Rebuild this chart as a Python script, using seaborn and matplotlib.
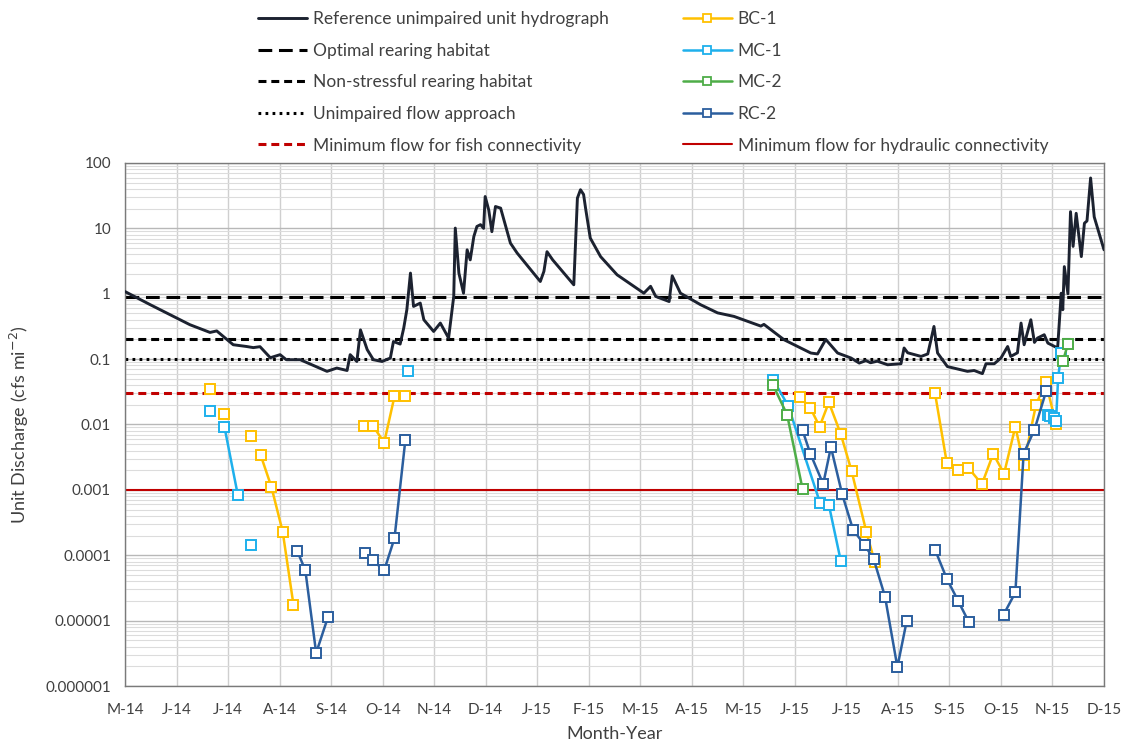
import numpy as np
import pandas as pd
import matplotlib
matplotlib.use("Agg")
import matplotlib.pyplot as plt
import seaborn as sns
from matplotlib.lines import Line2D
from matplotlib.ticker import FixedLocator, NullFormatter

# ---------------- data ----------------
month_labels = ["M-14", "J-14", "J-14", "A-14", "S-14", "O-14", "N-14", "D-14", "J-15", "F-15",
                "M-15", "A-15", "M-15", "J-15", "J-15", "A-15", "S-15", "O-15", "N-15", "D-15"]
y_tick_values = [1e-6, 1e-5, 1e-4, 1e-3, 1e-2, 1e-1, 1, 10, 100]
y_tick_labels = ["0.000001", "0.00001", "0.0001", "0.001", "0.01", "0.1", "1", "10", "100"]

# x in months since the start of May 2014
hydro_month = [0.00, 0.49, 1.26, 1.65, 1.78, 2.10, 2.36, 2.49, 2.62, 2.82, 3.01, 3.13, 3.40, 3.92, 4.11,
               4.31, 4.37, 4.50, 4.57, 4.70, 4.82, 4.99, 5.15, 5.21, 5.34, 5.41, 5.47, 5.54, 5.60, 5.73,
               5.80, 5.99, 6.12, 6.28, 6.38, 6.41, 6.48, 6.57, 6.64, 6.70, 6.77, 6.83, 6.90, 6.96, 6.99,
               7.06, 7.12, 7.19, 7.29, 7.48, 7.61, 8.06, 8.13, 8.19, 8.30, 8.71, 8.78, 8.84, 8.90, 8.94,
               9.03, 9.23, 9.55, 10.07, 10.20, 10.30, 10.56, 10.62, 10.78, 11.17, 11.50, 11.82, 12.34,
               12.40, 12.79, 13.31, 13.44, 13.60, 13.83, 14.09, 14.25, 14.38, 14.47, 14.60, 14.80, 15.06,
               15.12, 15.19, 15.45, 15.58, 15.70, 15.77, 15.96, 16.35, 16.48, 16.64, 16.71, 16.87, 17.00,
               17.13, 17.19, 17.32, 17.39, 17.45, 17.58, 17.65, 17.71, 17.84, 17.91, 18.10, 18.17, 18.20,
               18.23, 18.30, 18.35, 18.40, 18.46, 18.56, 18.62, 18.67, 18.74, 18.81, 19.00]
hydro_q = [1.08, 0.68, 0.336, 0.256, 0.27, 0.166, 0.156, 0.15, 0.155, 0.105, 0.117, 0.098, 0.098, 0.065, 0.073,
           0.067, 0.117, 0.092, 0.28, 0.14, 0.098, 0.092, 0.104, 0.186, 0.17, 0.30, 0.57, 2.07, 0.64, 0.72,
           0.40, 0.265, 0.356, 0.21, 0.91, 10.1, 2.07, 1.02, 4.7, 3.3, 7.5, 10.7, 11.4, 10.0, 30.7,
           19.0, 8.9, 21.6, 20.4, 5.95, 4.2, 1.54, 2.2, 4.4, 3.3, 1.37, 29.0, 39.0, 33.0, 20.0,
           7.1, 3.7, 1.95, 1.02, 1.3, 0.91, 0.76, 1.88, 1.02, 0.68, 0.51, 0.45, 0.32,
           0.34, 0.198, 0.124, 0.12, 0.20, 0.124, 0.104, 0.087, 0.095, 0.088, 0.093, 0.082, 0.085,
           0.148, 0.125, 0.11, 0.12, 0.316, 0.124, 0.077, 0.065, 0.067, 0.06, 0.085, 0.085, 0.104,
           0.156, 0.11, 0.125, 0.356, 0.166, 0.40, 0.18, 0.21, 0.236, 0.176, 0.148, 1.02, 0.57,
           2.6, 1.0, 18.0, 5.3, 17.0, 3.7, 12.0, 13.0, 59.0, 15.0, 4.7]

optimal_rearing = 0.9
non_stressful = 0.2
unimpaired_flow = 0.1
fish_connectivity = 0.03
hydraulic_connectivity = 0.001

bc1_month = [1.65, 1.93, 2.44, 2.63, 2.84, 3.06, 3.27, 4.64, 4.81, 5.03, 5.23, 5.44,
             13.10, 13.30, 13.48, 13.66, 13.89, 14.10, 14.39, 14.55,
             15.72, 15.95, 16.16, 16.37, 16.63, 16.85, 17.06, 17.28, 17.44, 17.68, 17.87, 18.07]
bc1_q = [0.0349, 0.0145, 0.0067, 0.00346, 0.00112, 0.00023, 0.0000174, 0.0096, 0.0096, 0.0053, 0.0269, 0.0269,
         0.026, 0.018, 0.0093, 0.0218, 0.0072, 0.00196, 0.000224, 0.0000794,
         0.0302, 0.00257, 0.00204, 0.00216, 0.00122, 0.00356, 0.00177, 0.0093, 0.00244, 0.020, 0.0445, 0.010]
bc1_seg = [0, 1, 2, 3, 3, 3, 3, 4, 4, 4, 4, 4,
           5, 5, 5, 5, 5, 5, 5, 5,
           6, 6, 6, 6, 6, 6, 6, 6, 6, 6, 6, 6]

mc1_month = [1.65, 1.93, 2.19, 2.44, 5.49, 12.58, 12.87, 13.49, 13.66, 13.89,
             17.91, 17.96, 18.02, 18.07, 18.11, 18.17]
mc1_q = [0.0159, 0.0092, 0.00083, 0.000142, 0.065, 0.0484, 0.0194, 0.00063, 0.00059, 0.000083,
         0.0141, 0.0133, 0.0125, 0.0115, 0.052, 0.124]
mc1_seg = [0, 1, 1, 2, 3, 4, 4, 4, 4, 4, 5, 5, 5, 5, 5, 5]

mc2_month = [12.58, 12.85, 13.15, 18.20, 18.30]
mc2_q = [0.0396, 0.0141, 0.00103, 0.092, 0.17]
mc2_seg = [0, 0, 0, 1, 1]

rc2_month = [3.34, 3.50, 3.71, 3.94, 4.65, 4.81, 5.03, 5.23, 5.44,
             13.15, 13.30, 13.55, 13.70, 13.92, 14.13, 14.36, 14.53, 14.75, 14.99, 15.17,
             15.72, 15.95, 16.17, 16.38, 17.05, 17.28, 17.44, 17.65, 17.88]
rc2_q = [0.000118, 0.0000587, 0.0000032, 0.0000114, 0.000107, 0.0000834, 0.0000587, 0.000182, 0.0057,
         0.0081, 0.0036, 0.00123, 0.0045, 0.00085, 0.000246, 0.000141, 0.0000874, 0.0000233, 0.00000195, 0.0000098,
         0.000122, 0.0000436, 0.00002, 0.0000094, 0.0000123, 0.000027, 0.0036, 0.0083, 0.033]
rc2_seg = [0, 0, 0, 0, 1, 1, 1, 1, 1,
           2, 2, 2, 2, 2, 2, 2, 2, 2, 2, 2,
           3, 3, 3, 3, 4, 4, 4, 4, 4]

# ---------------- style ----------------
sns.set_theme(style="white")
plt.rcParams["font.family"] = ["Lato", "DejaVu Sans"]

col_hydro = "#1c2230"
col_red = "#c00000"
col_bc1 = "#FFC000"
col_mc1 = "#1EB0EC"
col_mc2 = "#4EAD48"
col_rc2 = "#2B5E9E"
text_col = "#404040"

fig = plt.figure(figsize=(11.22, 7.46), dpi=100)
ax = fig.add_axes([125 / 1122, 1 - 686 / 746, (1104 - 125) / 1122, (686 - 163) / 746])
ax.set_yscale("log")

# threshold lines
ax.axhline(optimal_rearing, color="black", lw=2.2, dashes=(4.5, 2.2), zorder=2)
ax.axhline(non_stressful, color="black", lw=2.2, dashes=(2.6, 1.6), zorder=2)
ax.axhline(unimpaired_flow, color="black", lw=2.2, dashes=(0.9, 1.4), zorder=2)
ax.axhline(fish_connectivity, color=col_red, lw=2.2, dashes=(2.6, 1.6), zorder=2)
ax.axhline(hydraulic_connectivity, color=col_red, lw=1.5, zorder=2)

# hydrograph
sns.lineplot(x=hydro_month, y=hydro_q, color=col_hydro, lw=2.1, estimator=None, sort=False,
             ax=ax, legend=False, zorder=3)

def station(xs, ys, seg, c):
    sns.lineplot(x=xs, y=ys, units=seg, estimator=None, sort=False, color=c, lw=1.8,
                 marker="s", markersize=6.5, markerfacecolor="white", markeredgecolor=c,
                 markeredgewidth=1.4, ax=ax, legend=False, zorder=4)

station(bc1_month, bc1_q, bc1_seg, col_bc1)
station(mc1_month, mc1_q, mc1_seg, col_mc1)
station(mc2_month, mc2_q, mc2_seg, col_mc2)
station(rc2_month, rc2_q, rc2_seg, col_rc2)

# axes
ax.set_xlim(0, 19)
ax.set_ylim(1e-6, 100)
ax.xaxis.set_major_locator(FixedLocator(range(len(month_labels))))
ax.set_xticklabels(month_labels)
ax.yaxis.set_major_locator(FixedLocator(y_tick_values))
ax.set_yticklabels(y_tick_labels)
minor_vals = [m * d for d in y_tick_values[:-1] for m in range(2, 10)]
ax.yaxis.set_minor_locator(FixedLocator(minor_vals))
ax.yaxis.set_minor_formatter(NullFormatter())
ax.tick_params(axis="y", which="both", length=0, labelsize=11, colors=text_col, pad=10)
ax.tick_params(axis="x", which="both", length=0, labelsize=11, colors=text_col, pad=12)
ax.grid(which="major", axis="y", color="#b8b8b8", lw=1.0)
ax.grid(which="minor", axis="y", color="#dcdcdc", lw=0.8)
ax.grid(which="major", axis="x", color="#cfcfcf", lw=1.0)
ax.set_axisbelow(True)
for s in ax.spines.values():
    s.set_color("#7a7a7a")
    s.set_linewidth(1.0)

ax.set_xlabel("Month-Year", fontsize=13, color=text_col, labelpad=7)
ax.set_ylabel("Unit Discharge (cfs mi$^{-2}$)", fontsize=13, color=text_col, labelpad=10)

# legends
def h(**kw):
    return Line2D([0], [0], **kw)

h1 = [h(color=col_hydro, lw=2.1),
      h(color="black", lw=2.2, dashes=(4.5, 2.2)),
      h(color="black", lw=2.2, dashes=(2.6, 1.6)),
      h(color="black", lw=2.2, dashes=(0.9, 1.4)),
      h(color=col_red, lw=2.2, dashes=(2.6, 1.6))]
l1 = ["Reference unimpaired unit hydrograph", "Optimal rearing habitat", "Non-stressful rearing habitat",
      "Unimpaired flow approach", "Minimum flow for fish connectivity"]

def mk(c):
    return h(color=c, lw=1.8, marker="s", markersize=6, markerfacecolor="white",
             markeredgecolor=c, markeredgewidth=1.3)

h2 = [mk(col_bc1), mk(col_mc1), mk(col_mc2), mk(col_rc2), h(color=col_red, lw=1.5)]
l2 = ["BC-1", "MC-1", "MC-2", "RC-2", "Minimum flow for hydraulic connectivity"]

for hs, ls, x0 in [(h1, l1, 258), (h2, l2, 683)]:
    leg = fig.legend(hs, ls, loc="upper left", bbox_to_anchor=(x0 / 1122, 1 - 11 / 746),
                     frameon=False, fontsize=12.5, handlelength=2.8, handletextpad=0.35,
                     labelspacing=0.9, borderpad=0, borderaxespad=0)
    for t in leg.get_texts():
        t.set_color(text_col)

fig.savefig("out.png", dpi=100)
